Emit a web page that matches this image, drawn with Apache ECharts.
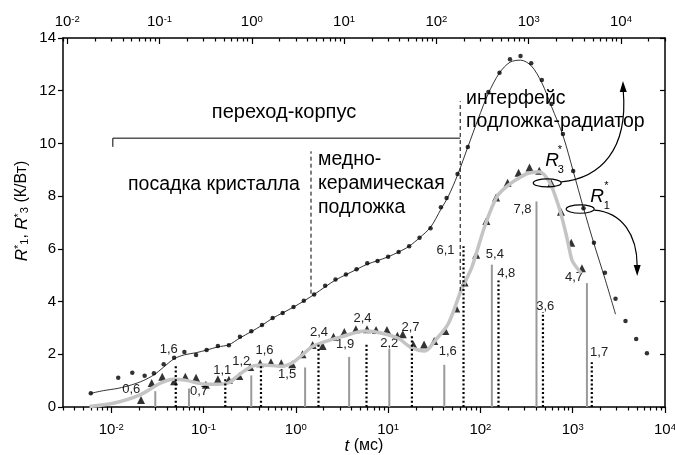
<!DOCTYPE html>
<html><head><meta charset="utf-8">
<script src="https://cdn.jsdelivr.net/npm/echarts@6/dist/echarts.min.js"></script>
<style>html,body{margin:0;padding:0;background:#fff}#c{width:675px;height:455px}</style>
</head><body><div id="c"></div>
<script>
// ---- data (t in ms, R in K/W) ----
const r1Dots = [[0.006,0.52],[0.0119,1.11],[0.0169,1.30],[0.023,1.19],[0.029,1.28],[0.037,1.62],[0.048,1.87],[0.062,2.09],[0.083,1.97],[0.108,2.16],[0.143,2.31],[0.188,2.34],[0.248,2.67],[0.329,2.87],[0.43,3.11],[0.56,3.38],[0.72,3.57],[0.944,3.79],[1.22,4.03],[1.58,4.27],[2.08,4.60],[2.69,4.84],[3.49,5.03],[4.55,5.23],[5.94,5.45],[7.68,5.54],[10,5.70],[13,5.88],[16.9,6.10],[21.9,6.42],[28.8,6.78],[37.3,7.58],[43,7.93],[56.5,8.84],[73,9.86],[122,11.95],[161,12.68],[209,13.19],[272,13.32],[355,13.04],[463,12.41],[589,11.5],[784,10.36],[1012,8.95],[1309,7.54],[1698,6.23],[2234,5.09],[2911,4.11],[3733,3.26],[4875,2.58],[6370,2.04]];
const r1Fit = [[0.006,0.52],[0.0082,0.62],[0.0119,0.71],[0.0166,0.84],[0.0222,1.0],[0.029,1.22],[0.0366,1.5],[0.048,1.83],[0.062,1.98],[0.083,2.06],[0.108,2.16],[0.143,2.28],[0.188,2.36],[0.248,2.62],[0.329,2.86],[0.43,3.1],[0.56,3.37],[0.72,3.57],[0.944,3.79],[1.22,4.02],[1.58,4.27],[2.08,4.56],[2.69,4.82],[3.49,5.02],[4.55,5.22],[5.94,5.42],[7.68,5.55],[10,5.7],[13,5.88],[16.9,6.1],[21.9,6.42],[28.8,6.82],[37.3,7.5],[45,8.0],[56.5,8.8],[73,9.86],[95,10.95],[122,11.9],[161,12.68],[209,13.08],[272,13.16],[355,12.95],[463,12.3],[589,11.4],[784,10.3],[1012,8.95],[1309,7.55],[1698,6.2],[2234,4.87],[2911,3.52]];
const r3Tri = [[0.021,0.27],[0.0274,0.91],[0.0357,1.15],[0.048,0.98],[0.0634,1.15],[0.083,1.11],[0.106,0.84],[0.143,1.05],[0.188,1.03],[0.244,1.18],[0.32,1.52],[0.41,1.66],[0.537,1.7],[0.695,1.66],[0.914,1.62],[1.18,2.0],[1.52,2.35],[1.95,2.31],[2.56,2.67],[3.35,2.85],[4.47,2.95],[5.9,2.95],[7.4,2.92],[9.7,2.92],[12.6,2.7],[14.4,2.76],[18.8,2.36],[24.5,2.37],[31.6,2.5],[41.7,2.88],[54.7,3.74],[67.3,4.72],[90,5.78],[116,7.06],[148,7.95],[197,8.51],[259,8.89],[340,9.09],[434,8.96],[585,8.49],[745,7.41],[964,6.23],[1259,5.26]];
const r3Fit = [[0.0058,0.02],[0.0105,0.14],[0.0205,0.46],[0.034,0.9],[0.047,1.05],[0.063,1.02],[0.1,0.87],[0.138,0.86],[0.188,0.92],[0.24,1.21],[0.33,1.53],[0.43,1.59],[0.71,1.55],[0.9,1.66],[1.17,1.97],[1.5,2.29],[2.08,2.48],[3.15,2.67],[5.6,2.88],[8.6,2.8],[13,2.6],[17.1,2.29],[24.9,2.12],[32.6,2.54],[45,3.17],[62,4.44],[81,5.32],[111,6.84],[151,7.98],[201,8.42],[259,8.68],[328,8.87],[434,8.93],[557,8.55],[670,7.85],[760,7.22],[860,6.46],[940,5.83],[1000,5.51],[1240,5.07]];
const greyBarT = [0.030,0.0695,0.329,1.26,3.78,10.3,40.6,133,405,1426];
const greyBarV = [0.6,0.7,1.2,1.5,1.9,2.2,1.6,5.4,7.8,4.7];
const dotBarT = [0.050,0.172,0.419,1.76,5.83,18.1,65.6,157,476,1610];
const dotBarV = [1.6,1.1,1.6,2.4,2.4,2.7,6.1,4.8,3.6,1.7];
const dashedLines = [[[1.46,4.3],[1.46,9.7]],[[60.4,4.4],[60.4,11.6]]];
const bracket = [[0.0104,9.87],[0.0104,10.2],[60.4,10.2]];
const xMajorTicks = [0.01,0.1,1,10,100,1000,10000];

// ---- styles (label offsets in px, relative to bar top) ----
const greyLabelOff = [[-24,-2],[10,2.5],[-10,-14],[-18,7],[-4,-12.7],[0,-6],[3.5,-13],[3,-10],[-14,8],[-13,-5.6]];
const dotLabelOff = [[-7,-15],[-3,-7.4],[3.5,-14],[0.5,-11.7],[-4,-25],[-1.4,-8.4],[-18,4.3],[7.7,-7.3],[2.3,-5.3],[7.3,-9.4]];

function minorTicks(lo, hi) {
  const out = [];
  for (let e = -4; e <= 5; e++) for (let k = 2; k <= 9; k++) {
    const v = k * Math.pow(10, e);
    if (v >= lo * 0.999 && v <= hi * 1.001) out.push(v);
  }
  return out;
}
const FONT = '"Liberation Sans", Arial, sans-serif';
const fmt = v => v.toFixed(1).replace('.', ',');
const pow10Label = v => '{b|10}{s|' + Math.round(Math.log10(v)) + '}';
const labelRich = { b: {fontSize: 15, fontFamily: FONT, color: '#000'}, s: {fontSize: 9.5, fontFamily: FONT, color: '#000', verticalAlign: 'top', padding: [0,0,6,0]} };

function barSeries(tArr, vArr, offs, color, width, dash, z) {
  return {
    type: 'custom', xAxisIndex: 0, yAxisIndex: 0, z: z,
    data: tArr.map((t, i) => [t, vArr[i]]),
    renderItem: function (params, api) {
      const t = api.value(0), v = api.value(1);
      const p0 = api.coord([t, 0]), p1 = api.coord([t, v]);
      const o = offs[params.dataIndex];
      return { type: 'group', children: [
        { type: 'line', shape: {x1: p0[0], y1: p0[1], x2: p1[0], y2: p1[1]}, style: {stroke: color, lineWidth: width, lineDash: dash} },
        { type: 'text', x: p1[0] + o[0], y: p1[1] + o[1], style: {text: fmt(v), fill: '#222', font: '13px ' + FONT, align: 'center', verticalAlign: 'middle'} }
      ]};
    }
  };
}

const chart = echarts.init(document.getElementById('c'), null, {renderer: 'canvas'});
const axisLine = {show: true, lineStyle: {color: '#000', width: 1.5}};
chart.setOption({
  animation: false,
  backgroundColor: '#fff',
  grid: {left: 63, right: 10, top: 38, bottom: 48, containLabel: false, outerBoundsMode: 'none'},
  xAxis: [
    {type: 'log', position: 'bottom', min: 0.003, max: 10000, axisLine: axisLine,
     axisTick: {show: true, inside: false, length: 6, customValues: xMajorTicks, lineStyle: {color: '#000', width: 1.2}},
     axisLabel: {show: true, customValues: xMajorTicks, formatter: pow10Label, rich: labelRich, margin: 15},
     splitLine: {show: false}, minorTick: {show: false}},
    {type: 'log', position: 'bottom', min: 0.003, max: 10000, axisLine: {show: false},
     axisTick: {show: true, inside: false, length: 3.5, customValues: minorTicks(0.003, 10000), lineStyle: {color: '#000', width: 1.2}},
     axisLabel: {show: false}, splitLine: {show: false}},
    {type: 'log', position: 'top', min: 0.009, max: 30000, axisLine: axisLine,
     axisTick: {show: true, inside: true, length: 6, customValues: xMajorTicks, lineStyle: {color: '#000', width: 1.2}},
     axisLabel: {show: true, customValues: xMajorTicks, formatter: pow10Label, rich: labelRich, margin: 8},
     splitLine: {show: false}},
    {type: 'log', position: 'top', min: 0.009, max: 30000, axisLine: {show: false},
     axisTick: {show: true, inside: true, length: 3.5, customValues: minorTicks(0.009, 30000), lineStyle: {color: '#000', width: 1.2}},
     axisLabel: {show: false}, splitLine: {show: false}}
  ],
  yAxis: [
    {type: 'value', position: 'left', min: 0, max: 14, interval: 2, axisLine: axisLine,
     axisTick: {show: true, inside: false, length: 5, lineStyle: {color: '#000', width: 1.2}},
     axisLabel: {show: true, fontSize: 15, fontFamily: FONT, color: '#000', margin: 7},
     splitLine: {show: false}},
    {type: 'value', position: 'right', min: 0, max: 14, interval: 2, axisLine: axisLine,
     axisTick: {show: true, inside: true, length: 5, lineStyle: {color: '#000', width: 1.2}},
     axisLabel: {show: false}, splitLine: {show: false}}
  ],
  series: [
    barSeries(greyBarT, greyBarV, greyLabelOff, '#9a9a9a', 2, null, 2),
    {type: 'scatter', name: 'R3*', xAxisIndex: 0, yAxisIndex: 0, data: r3Tri, symbol: 'triangle', symbolSize: 8, itemStyle: {color: '#000'}, z: 3},
    {type: 'line', xAxisIndex: 0, yAxisIndex: 0, data: r3Fit, smooth: 0.3, symbol: 'none', lineStyle: {color: '#c4c4c4', width: 3.5}, z: 4},
    barSeries(dotBarT, dotBarV, dotLabelOff, '#000', 2.2, [2, 2.3], 5),
    {type: 'line', xAxisIndex: 0, yAxisIndex: 0, data: r1Fit, smooth: 0.3, symbol: 'none', lineStyle: {color: '#000', width: 0.8}, z: 6},
    {type: 'scatter', name: 'R1*', xAxisIndex: 0, yAxisIndex: 0, data: r1Dots, symbol: 'circle', symbolSize: 4.5, itemStyle: {color: '#000'}, z: 7},
    ...dashedLines.map(d => ({type: 'line', xAxisIndex: 0, yAxisIndex: 0, data: d, symbol: 'none', lineStyle: {color: '#000', width: 1, type: [4, 3]}, z: 6})),
    {type: 'line', xAxisIndex: 0, yAxisIndex: 0, data: bracket, symbol: 'none', lineStyle: {color: '#000', width: 1}, z: 6}
  ]
});

// ---- annotations ----
const anchorR3 = [530, 8.5], anchorR1 = [1205, 7.51];
const pR3 = chart.convertToPixel({xAxisIndex: 0, yAxisIndex: 0}, anchorR3);
const pR1 = chart.convertToPixel({xAxisIndex: 0, yAxisIndex: 0}, anchorR1);
const txt = (s, x, y, size, extra) => Object.assign({type: 'text', x: x, y: y, z: 20, style: Object.assign({text: s, fill: '#000', font: size + 'px ' + FONT, verticalAlign: 'middle'}, extra || {})});
const it = (s, x, y, size) => ({type: 'text', x: x, y: y, z: 20, style: {text: s, fill: '#000', font: 'italic ' + size + 'px ' + FONT, verticalAlign: 'middle'}});
const stroke = {stroke: '#000', lineWidth: 1.2, fill: null};
chart.setOption({graphic: [
  txt('переход-корпус', 284, 112, 20, {align: 'center'}),
  txt('посадка кристалла', 128, 185, 19.5),
  txt('медно-\nкерамическая\nподложка', 318, 184, 19.5, {lineHeight: 24}),
  txt('интерфейс\nподложка-радиатор', 466, 110, 19.5, {lineHeight: 23.5}),
  it('R', pR3[0] - 2, pR3[1] - 22, 19), txt('3', pR3[0] + 10.5, pR3[1] - 13, 11), txt('*', pR3[0] + 10.5, pR3[1] - 33, 11),
  it('R', pR1[0] + 10, pR1[1] - 12, 19), txt('1', pR1[0] + 23.5, pR1[1] - 3, 11), txt('*', pR1[0] + 24, pR1[1] - 23, 11),
  {type: 'ellipse', z: 20, shape: {cx: pR3[0], cy: pR3[1], rx: 14, ry: 4}, style: stroke},
  {type: 'ellipse', z: 20, shape: {cx: pR1[0], cy: pR1[1], rx: 14, ry: 4.2}, style: stroke},
  {type: 'bezierCurve', z: 20, shape: {x1: pR3[0] + 14, y1: pR3[1] - 1, cpx1: pR3[0] + 53, cpy1: pR3[1] - 5, cpx2: pR3[0] + 81, cpy2: pR3[1] - 33, x2: pR3[0] + 76, y2: pR3[1] - 92}, style: stroke},
  {type: 'polygon', z: 20, shape: {points: [[pR3[0] + 75.7, pR3[1] - 102], [pR3[0] + 72.5, pR3[1] - 91], [pR3[0] + 79.5, pR3[1] - 91]]}, style: {fill: '#000'}},
  {type: 'bezierCurve', z: 20, shape: {x1: pR1[0] + 14, y1: pR1[1] + 1, cpx1: pR1[0] + 42, cpy1: pR1[1] + 3, cpx2: pR1[0] + 57, cpy2: pR1[1] + 26, x2: pR1[0] + 57, y2: pR1[1] + 57}, style: stroke},
  {type: 'polygon', z: 20, shape: {points: [[pR1[0] + 57, pR1[1] + 67], [pR1[0] + 53.5, pR1[1] + 56], [pR1[0] + 60.5, pR1[1] + 56]]}, style: {fill: '#000'}},
  {type: 'text', x: 364, y: 446, z: 20, style: {
    text: '{i|t}{n| (мс)}', align: 'center', verticalAlign: 'middle',
    rich: {i: {fontStyle: 'italic', fontSize: 17, fontFamily: FONT, fill: '#000'}, n: {fontSize: 16, fontFamily: FONT, fill: '#000'}}}},
  {type: 'text', x: 22, y: 211, rotation: Math.PI / 2, z: 20, style: {
    text: '{i|R}{p|*}{b|1}{n|, }{i|R}{p|*}{b|3}{n| (К/Вт)}', align: 'center', verticalAlign: 'middle',
    rich: {i: {fontStyle: 'italic', fontSize: 17, fontFamily: FONT, fill: '#000'}, n: {fontSize: 16, fontFamily: FONT, fill: '#000'},
           p: {fontSize: 11, fontFamily: FONT, fill: '#000', verticalAlign: 'top'}, b: {fontSize: 11, fontFamily: FONT, fill: '#000', verticalAlign: 'bottom'}}}}
]});
</script>
</body></html>
